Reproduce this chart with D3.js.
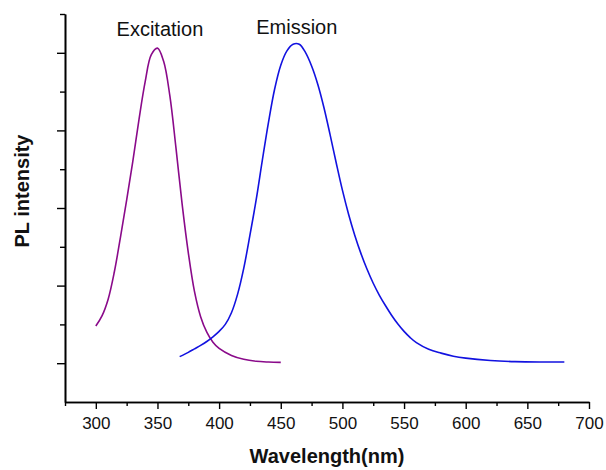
<!DOCTYPE html>
<html>
<head>
<meta charset="utf-8">
<script src="https://cdn.jsdelivr.net/npm/d3@7"></script>
<style>
  html, body { margin: 0; padding: 0; background: #fff; }
  svg text { font-family: "Liberation Sans", Arial, sans-serif; }
</style>
</head>
<body>
<div id="chart"></div>
<script>
// Excitation spectrum: wavelength (nm) and normalised intensity
const excWavelength = [300, 305, 310, 315, 320, 325, 330, 335, 340, 345, 350, 355, 360, 365, 370, 375, 380, 385, 390, 395, 400, 410, 420, 430, 440, 450];
const excIntensity  = [0.096, 0.122, 0.165, 0.235, 0.325, 0.420, 0.520, 0.628, 0.725, 0.795, 0.812, 0.778, 0.690, 0.555, 0.410, 0.285, 0.185, 0.120, 0.080, 0.054, 0.038, 0.020, 0.010, 0.005, 0.003, 0.002];

// Emission spectrum
const emWavelength = [368, 375, 380, 385, 390, 395, 400, 405, 410, 415, 420, 425, 430, 435, 440, 445, 450, 455, 460, 465, 470, 475, 480, 485, 490, 495, 500, 505, 510, 515, 520, 525, 530, 535, 540, 545, 550, 555, 560, 570, 580, 590, 600, 620, 640, 660, 680];
const emIntensity  = [0.017, 0.028, 0.037, 0.046, 0.056, 0.068, 0.082, 0.100, 0.130, 0.178, 0.245, 0.330, 0.420, 0.522, 0.620, 0.706, 0.768, 0.805, 0.822, 0.822, 0.801, 0.766, 0.719, 0.659, 0.589, 0.516, 0.446, 0.384, 0.330, 0.283, 0.242, 0.206, 0.175, 0.148, 0.123, 0.101, 0.082, 0.066, 0.053, 0.036, 0.026, 0.018, 0.013, 0.007, 0.004, 0.003, 0.003];

// Axis ticks
const xMajorTicks = [300, 350, 400, 450, 500, 550, 600, 650, 700];
const xMinorTicks = [275, 325, 375, 425, 475, 525, 575, 625, 675];
const yMajorTicks = [0, 0.2, 0.4, 0.6, 0.8];
const yMinorTicks = [0.1, 0.3, 0.5, 0.7, 0.9];

const seriesNames = ['Excitation', 'Emission'];
const xTitle = 'Wavelength(nm)';
const yTitle = 'PL intensity';

(function () {
  const W = 606, H = 470;
  const margin = { left: 65, right: 17, top: 14, bottom: 68 };

  const svg = d3.select('#chart')
    .append('svg')
    .attr('width', W)
    .attr('height', H);

  const x = d3.scaleLinear()
    .domain([275, 700])
    .range([margin.left, W - margin.right]);

  const y = d3.scaleLinear()
    .domain([-0.1, 0.9])
    .range([H - margin.bottom, margin.top]);

  // Axes (bottom + left only)
  const styleAxis = g => {
    g.select('.domain').attr('stroke', '#000').attr('stroke-width', 1.6);
    g.selectAll('.tick line').attr('stroke', '#000').attr('stroke-width', 1.4);
  };

  svg.append('g')
    .attr('transform', `translate(0,${y(-0.1)})`)
    .call(d3.axisBottom(x).tickValues(xMinorTicks).tickSize(4).tickSizeOuter(0).tickFormat(''))
    .call(styleAxis);

  svg.append('g')
    .attr('transform', `translate(0,${y(-0.1)})`)
    .call(d3.axisBottom(x).tickValues(xMajorTicks).tickSize(7).tickSizeOuter(0).tickPadding(8).tickFormat(d3.format('d')))
    .call(styleAxis)
    .call(g => g.selectAll('.tick text')
      .attr('font-size', 17)
      .attr('fill', '#111')
      .style('font-family', '"Liberation Sans", Arial, sans-serif'));

  svg.append('g')
    .attr('transform', `translate(${x(275)},0)`)
    .call(d3.axisLeft(y).tickValues(yMinorTicks).tickSize(5).tickSizeOuter(0).tickFormat(''))
    .call(styleAxis);

  svg.append('g')
    .attr('transform', `translate(${x(275)},0)`)
    .call(d3.axisLeft(y).tickValues(yMajorTicks).tickSize(8).tickSizeOuter(0).tickFormat(''))
    .call(styleAxis);

  // Spectra
  const line = d3.line()
    .x(d => x(d[0]))
    .y(d => y(d[1]))
    .curve(d3.curveCatmullRom.alpha(0.5));

  const series = [
    { name: seriesNames[0], data: d3.zip(excWavelength, excIntensity), color: '#8a0a8a', label: [352, 0.843] },
    { name: seriesNames[1], data: d3.zip(emWavelength, emIntensity), color: '#1212e0', label: [463, 0.848] }
  ];

  svg.append('g')
    .selectAll('path')
    .data(series)
    .join('path')
    .attr('d', d => line(d.data))
    .attr('fill', 'none')
    .attr('stroke', d => d.color)
    .attr('stroke-width', 1.6);

  // Labels above the peaks
  svg.append('g')
    .selectAll('text')
    .data(series)
    .join('text')
    .attr('x', d => x(d.label[0]))
    .attr('y', d => y(d.label[1]))
    .attr('text-anchor', 'middle')
    .attr('font-size', 20)
    .attr('fill', '#111')
    .text(d => d.name);

  // Axis titles
  svg.append('text')
    .attr('x', (x(275) + x(700)) / 2)
    .attr('y', 463)
    .attr('text-anchor', 'middle')
    .attr('font-size', 20)
    .attr('font-weight', 700)
    .attr('fill', '#111')
    .text(xTitle);

  svg.append('text')
    .attr('transform', `translate(29,${(y(-0.1) + y(0.9)) / 2 - 17}) rotate(-90)`)
    .attr('text-anchor', 'middle')
    .attr('font-size', 20)
    .attr('font-weight', 700)
    .attr('fill', '#111')
    .text(yTitle);
})();
</script>
</body>
</html>
